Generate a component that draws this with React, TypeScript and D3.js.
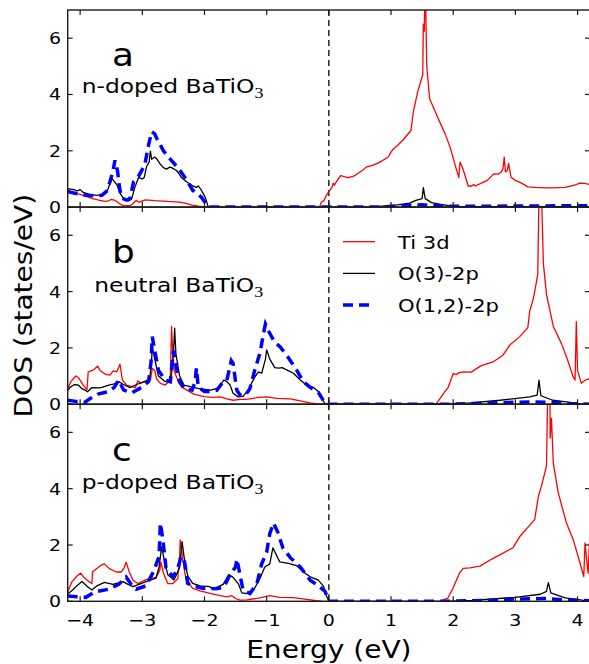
import React from "react";
import * as d3 from "d3";

type P = [number, number];

// ---------- data: [energy (eV), DOS (states/eV)] ----------
const aTi: P[] = [[-4.2,0.6],[-4.1,0.5],[-4.0,0.45],[-3.9,0.38],[-3.8,0.3],[-3.7,0.25],[-3.6,0.2],[-3.55,0.22],[-3.5,0.27],[-3.45,0.25],[-3.4,0.18],[-3.35,0.1],[-3.3,0.05],[-3.2,0.05],[-3.15,0.12],[-3.1,0.24],[-3.05,0.17],[-3.0,0.22],[-2.95,0.26],[-2.8,0.23],[-2.6,0.2],[-2.4,0.18],[-2.3,0.13],[-2.2,0.07],[-2.1,0.03],[-2.0,0.01],[-1.9,0],[-0.15,0],[-0.12,0.18],[-0.08,0.22],[-0.05,0.38],[0.0,0.55],[0.05,0.7],[0.07,0.85],[0.09,0.78],[0.12,0.9],[0.19,1.12],[0.25,1.08],[0.31,1.05],[0.4,1.1],[0.47,1.2],[0.55,1.32],[0.6,1.42],[0.7,1.48],[0.8,1.57],[0.95,1.77],[1.0,1.95],[1.03,2.05],[1.1,2.18],[1.2,2.4],[1.32,2.72],[1.36,3.4],[1.43,4.1],[1.51,4.7],[1.52,6.5],[1.535,6.25],[1.545,7.5],[1.555,7.5],[1.575,5.0],[1.62,3.85],[1.7,3.45],[1.76,3.14],[1.87,2.6],[1.95,2.13],[2.03,1.5],[2.09,1.05],[2.11,1.6],[2.15,1.4],[2.2,1.05],[2.24,0.75],[2.3,0.75],[2.33,0.8],[2.36,0.75],[2.45,0.85],[2.55,0.95],[2.65,1.18],[2.72,1.17],[2.77,1.25],[2.8,1.35],[2.82,1.77],[2.84,1.25],[2.87,1.3],[2.89,1.55],[2.93,1.06],[3.0,0.95],[3.1,0.85],[3.2,0.72],[3.32,0.7],[3.5,0.68],[3.6,0.68],[3.8,0.7],[3.95,0.78],[4.04,0.85],[4.12,0.84],[4.2,0.8]];
const aO3: P[] = [[-4.2,0.66],[-4.1,0.62],[-4.05,0.58],[-4.0,0.62],[-3.95,0.52],[-3.85,0.45],[-3.73,0.42],[-3.62,0.46],[-3.55,0.65],[-3.49,1.03],[-3.45,0.9],[-3.41,0.8],[-3.36,0.5],[-3.3,0.3],[-3.22,0.22],[-3.17,0.3],[-3.12,0.7],[-3.06,1.05],[-3.0,1.0],[-2.97,1.05],[-2.93,1.45],[-2.89,1.6],[-2.87,1.99],[-2.85,1.7],[-2.8,1.78],[-2.77,1.72],[-2.72,1.55],[-2.66,1.4],[-2.61,1.35],[-2.56,1.42],[-2.53,1.4],[-2.45,1.3],[-2.4,1.15],[-2.37,1.05],[-2.29,0.9],[-2.22,0.8],[-2.19,0.75],[-2.13,0.7],[-2.1,0.75],[-2.05,0.6],[-2.0,0.4],[-1.98,0.3],[-1.94,0],[0.7,0],[0.9,0.04],[1.1,0.08],[1.3,0.14],[1.4,0.24],[1.5,0.3],[1.52,0.69],[1.55,0.3],[1.65,0.16],[1.8,0.1],[1.95,0.04],[2.1,0.02],[4.2,0.02]];
const aO12: P[] = [[-4.2,0.55],[-4.1,0.5],[-3.9,0.42],[-3.75,0.4],[-3.65,0.42],[-3.58,0.55],[-3.52,0.9],[-3.47,1.3],[-3.44,1.66],[-3.4,1.3],[-3.36,0.6],[-3.33,0.32],[-3.25,0.25],[-3.2,0.3],[-3.14,0.9],[-3.06,1.1],[-2.96,1.5],[-2.9,2.2],[-2.85,2.68],[-2.8,2.6],[-2.77,2.45],[-2.66,2.0],[-2.55,1.7],[-2.41,1.35],[-2.3,1.0],[-2.19,0.6],[-2.05,0.35],[-1.97,0.1],[-1.94,0.0],[0.8,0],[1.2,0.05],[1.5,0.08],[1.9,0.03],[2.3,0.03],[4.2,0.05]];

const bTi: P[] = [[-4.2,0.56],[-4.15,0.8],[-4.07,1.0],[-4.03,0.95],[-3.95,0.68],[-3.89,0.52],[-3.87,1.15],[-3.8,1.2],[-3.76,1.27],[-3.72,1.35],[-3.68,1.2],[-3.6,1.07],[-3.52,1.03],[-3.47,1.18],[-3.41,1.15],[-3.36,1.42],[-3.32,0.86],[-3.25,0.68],[-3.11,0.59],[-3.07,0.83],[-3.03,0.75],[-2.95,0.8],[-2.87,0.85],[-2.84,1.27],[-2.8,1.2],[-2.77,0.9],[-2.71,0.74],[-2.63,0.68],[-2.55,0.86],[-2.53,2.76],[-2.51,1.8],[-2.49,1.2],[-2.41,0.74],[-2.33,0.56],[-2.17,0.36],[-2.01,0.27],[-1.86,0.24],[-1.75,0.26],[-1.64,0.19],[-1.54,0.14],[-1.43,0.17],[-1.32,0.17],[-1.13,0.24],[-1.0,0.26],[-0.84,0.21],[-0.62,0.19],[-0.46,0.12],[-0.3,0.05],[-0.15,0.0],[1.72,0],[1.75,0.08],[1.84,0.37],[1.92,0.6],[2.0,1.09],[2.05,1.05],[2.1,1.12],[2.16,1.15],[2.29,1.14],[2.45,1.37],[2.64,1.5],[2.8,1.74],[2.91,2.1],[3.07,2.4],[3.2,2.72],[3.23,3.3],[3.29,3.76],[3.36,4.6],[3.38,7.5],[3.42,7.5],[3.45,5.0],[3.5,3.9],[3.61,2.76],[3.74,2.16],[3.84,1.57],[3.93,0.97],[3.96,0.86],[3.98,2.93],[4.0,1.2],[4.06,0.74],[4.12,0.85],[4.2,0.92]];
const bO3: P[] = [[-4.2,0.5],[-4.15,0.62],[-4.09,0.7],[-4.03,0.68],[-3.97,0.55],[-3.92,0.5],[-3.88,0.44],[-3.81,0.59],[-3.7,0.58],[-3.65,0.6],[-3.54,0.68],[-3.45,0.72],[-3.38,0.8],[-3.3,0.7],[-3.2,0.59],[-3.09,0.7],[-2.95,0.82],[-2.88,0.9],[-2.85,1.6],[-2.84,2.04],[-2.8,1.6],[-2.74,1.0],[-2.63,0.8],[-2.54,0.85],[-2.5,1.8],[-2.48,2.7],[-2.46,1.8],[-2.4,1.0],[-2.33,0.68],[-2.11,0.56],[-1.9,0.5],[-1.77,0.58],[-1.69,0.86],[-1.64,0.8],[-1.59,0.68],[-1.54,0.39],[-1.46,0.26],[-1.38,0.28],[-1.3,0.5],[-1.19,0.97],[-1.13,1.15],[-1.08,1.1],[-1.02,1.6],[-1.0,1.93],[-0.95,1.6],[-0.87,1.3],[-0.81,1.28],[-0.75,1.3],[-0.68,1.22],[-0.57,1.1],[-0.46,0.86],[-0.36,0.68],[-0.25,0.6],[-0.17,0.45],[-0.11,0.2],[-0.06,0.0],[1.9,0],[2.2,0.03],[2.75,0.14],[3.23,0.26],[3.35,0.32],[3.38,0.85],[3.41,0.3],[3.6,0.14],[3.82,0.08],[3.98,0.03],[4.1,0],[4.2,0]];
const bO12: P[] = [[-4.2,0.14],[-4.07,0.1],[-3.92,0.07],[-3.84,0.2],[-3.7,0.37],[-3.54,0.45],[-3.45,0.6],[-3.38,0.86],[-3.3,0.5],[-3.17,0.4],[-3.01,0.6],[-2.9,0.8],[-2.86,1.5],[-2.84,2.4],[-2.8,1.9],[-2.74,1.2],[-2.63,0.85],[-2.55,0.8],[-2.5,1.9],[-2.47,1.5],[-2.42,0.9],[-2.33,0.55],[-2.2,0.5],[-2.15,0.8],[-2.13,1.28],[-2.1,0.6],[-2.0,0.45],[-1.9,0.45],[-1.8,0.5],[-1.7,0.8],[-1.64,0.85],[-1.57,1.55],[-1.54,1.45],[-1.5,0.8],[-1.48,0.5],[-1.43,0.33],[-1.35,0.3],[-1.27,0.55],[-1.19,1.22],[-1.11,1.8],[-1.05,2.52],[-1.02,2.85],[-0.97,2.6],[-0.87,2.2],[-0.79,2.05],[-0.68,1.75],[-0.52,1.22],[-0.41,0.8],[-0.3,0.6],[-0.17,0.42],[-0.08,0.1],[-0.04,0.0],[2.0,0],[2.8,0.06],[3.3,0.08],[3.6,0.06],[3.9,0.02],[4.2,0.0]];

const cTi: P[] = [[-4.2,0.34],[-4.13,0.7],[-4.05,0.9],[-3.99,1.0],[-3.94,0.85],[-3.86,0.7],[-3.81,0.63],[-3.8,1.05],[-3.7,1.22],[-3.65,1.3],[-3.61,1.33],[-3.53,1.16],[-3.42,1.04],[-3.34,1.04],[-3.29,1.2],[-3.26,1.39],[-3.21,1.04],[-3.15,0.75],[-3.07,0.63],[-2.94,0.77],[-2.78,0.85],[-2.72,1.1],[-2.7,1.39],[-2.66,1.0],[-2.59,0.63],[-2.51,0.63],[-2.43,0.8],[-2.4,1.6],[-2.39,2.18],[-2.35,1.5],[-2.3,0.8],[-2.19,0.46],[-2.07,0.37],[-1.91,0.28],[-1.75,0.2],[-1.64,0.16],[-1.56,0.2],[-1.5,0.1],[-1.43,0.04],[-1.32,0.05],[-1.11,0.12],[-0.95,0.2],[-0.79,0.14],[-0.57,0.13],[-0.36,0.07],[-0.2,0.02],[-0.09,0],[1.82,0],[1.84,0.05],[1.91,0.1],[2.0,0.48],[2.1,1.0],[2.16,1.17],[2.27,1.19],[2.43,1.25],[2.62,1.5],[2.75,1.65],[2.96,1.9],[3.07,2.3],[3.31,2.9],[3.37,3.73],[3.42,4.1],[3.5,4.8],[3.52,7.5],[3.555,7.5],[3.56,5.8],[3.58,6.5],[3.61,4.9],[3.69,3.85],[3.82,2.79],[3.93,2.19],[4.04,1.36],[4.1,0.88],[4.12,2.07],[4.15,1.4],[4.17,1.0],[4.19,2.07],[4.2,2.0]];
const cO3: P[] = [[-4.2,0.26],[-4.12,0.4],[-4.07,0.52],[-3.97,0.7],[-3.88,0.52],[-3.81,0.4],[-3.73,0.55],[-3.61,0.67],[-3.47,0.6],[-3.31,0.7],[-3.23,0.6],[-3.15,0.52],[-2.94,0.7],[-2.78,0.82],[-2.73,1.22],[-2.69,1.93],[-2.65,1.5],[-2.59,0.94],[-2.49,0.76],[-2.4,1.2],[-2.36,2.12],[-2.33,1.6],[-2.27,0.9],[-2.19,0.64],[-2.07,0.55],[-1.92,0.52],[-1.86,0.43],[-1.7,0.6],[-1.61,0.95],[-1.54,0.85],[-1.45,0.6],[-1.4,0.3],[-1.32,0.27],[-1.21,0.4],[-1.11,0.8],[-1.03,1.22],[-0.95,1.33],[-0.9,1.9],[-0.79,1.4],[-0.65,1.35],[-0.52,1.27],[-0.41,1.04],[-0.3,0.87],[-0.17,0.75],[-0.09,0.55],[-0.04,0.2],[0.0,0],[1.9,0],[2.3,0.03],[3.0,0.14],[3.4,0.25],[3.5,0.35],[3.53,0.66],[3.57,0.3],[3.8,0.12],[4.1,0.03],[4.2,0.02]];
const cO12: P[] = [[-4.2,0.19],[-4.05,0.16],[-3.91,0.14],[-3.76,0.34],[-3.54,0.43],[-3.38,0.6],[-3.26,0.86],[-3.18,0.6],[-3.1,0.43],[-2.94,0.55],[-2.81,1.1],[-2.73,1.6],[-2.71,2.78],[-2.67,2.2],[-2.62,1.2],[-2.51,0.87],[-2.44,1.1],[-2.4,1.4],[-2.38,1.6],[-2.32,1.4],[-2.27,0.64],[-2.19,0.55],[-2.03,0.46],[-1.82,0.45],[-1.69,0.5],[-1.59,0.95],[-1.5,1.22],[-1.48,1.5],[-1.43,0.95],[-1.38,0.4],[-1.27,0.28],[-1.16,0.6],[-1.08,1.33],[-1.0,1.75],[-0.95,2.4],[-0.89,2.78],[-0.82,2.45],[-0.74,1.9],[-0.62,1.55],[-0.46,1.22],[-0.3,0.75],[-0.17,0.55],[-0.06,0.35],[0.0,0.0],[1.9,0],[2.6,0.04],[3.0,0.08],[3.5,0.1],[3.8,0.05],[4.2,0.02]];

const panelLetters = ["a", "b", "c"];
const panelNames = ["n-doped BaTiO", "neutral BaTiO", "p-doped BaTiO"];
const seriesNames = ["Ti 3d", "O(3)-2p", "O(1,2)-2p"];
const xTicks = [-4, -3, -2, -1, 0, 1, 2, 3, 4];
const yTicks = [0, 2, 4, 6];
const xLabel = "Energy (eV)";
const yLabel = "DOS (states/eV)";

const panels = [
  { ti: aTi, o3: aO3, o12: aO12 },
  { ti: bTi, o3: bO3, o12: bO12 },
  { ti: cTi, o3: cO3, o12: cO12 },
];

// ---------- layout ----------
const W = 589, H = 664;
const L = 67.7, R = 590;
const TOP = 10, PH = 197.1;
const FONT = "DejaVu Sans";
const SX = 1.15; // horizontal stretch of the reference text
const colors = ["#ff0000", "#000000", "#0000ff"];

const x = d3.scaleLinear().domain([-4.2, 4.2]).range([L, R]);

function ST({ x, y, sx = SX, size, anchor = "start", children, rotate = 0, family = FONT }: any) {
  const t = rotate ? `translate(${x},${y}) rotate(${rotate}) scale(${sx},1)` : `translate(${x},${y}) scale(${sx},1)`;
  return (
    <text transform={t} fontSize={size} fontFamily={family} textAnchor={anchor} fill="#000">
      {children}
    </text>
  );
}

export default function App() {
  const frame = "#1a1a1a";
  return (
    <svg width={W} height={H} style={{ position: "absolute", left: 0, top: 0, background: "#fff" }}>
      <defs>
        {panels.map((_, i) => (
          <clipPath id={`clip${i}`} key={i}>
            <rect x={L} y={TOP + i * PH} width={R - L} height={PH} />
          </clipPath>
        ))}
      </defs>
      {panels.map((p, i) => {
        const y0 = TOP + i * PH;
        const y = d3.scaleLinear().domain([0, 7]).range([y0 + PH, y0]);
        const line = d3.line<P>().x((d) => x(d[0])).y((d) => y(d[1]));
        return (
          <g key={i}>
            <g clipPath={`url(#clip${i})`}>
              <line x1={x(0)} x2={x(0)} y1={y0} y2={y0 + PH} stroke="#000" strokeWidth={1.3} strokeDasharray="6,4" />
              <path d={line(p.ti) || ""} fill="none" stroke={colors[0]} strokeWidth={1.3} strokeLinejoin="round" />
              <path d={line(p.o3) || ""} fill="none" stroke={colors[1]} strokeWidth={1.3} strokeLinejoin="round" />
              <path d={line(p.o12) || ""} fill="none" stroke={colors[2]} strokeWidth={3.5} strokeDasharray="10,6" />
            </g>
            <rect x={L} y={y0} width={R - L} height={PH} fill="none" stroke={frame} strokeWidth={1.4} />
            {xTicks.map((t) => (
              <g key={t}>
                <line x1={x(t)} x2={x(t)} y1={y0} y2={y0 + 5} stroke={frame} strokeWidth={1.2} />
                <line x1={x(t)} x2={x(t)} y1={y0 + PH} y2={y0 + PH - 5} stroke={frame} strokeWidth={1.2} />
              </g>
            ))}
            {yTicks.map((t) => (
              <g key={t}>
                <line x1={L} x2={L + 5} y1={y(t)} y2={y(t)} stroke={frame} strokeWidth={1.2} />
                <line x1={R} x2={R - 5} y1={y(t)} y2={y(t)} stroke={frame} strokeWidth={1.2} />
                <ST x={61} y={y(t) + 6} size={16.5} anchor="end">{String(t)}</ST>
              </g>
            ))}
            <ST x={112} y={y0 + [55.7, 56, 57][i]} size={32} sx={1.12}>{panelLetters[i]}</ST>
            <text
              transform={`translate(${[81.7, 94.3, 81.7][i]},${y0 + [83.3, 84.5, 85][i]}) scale(1.2,1)`}
              fontSize={19.5}
              fontFamily={FONT}
            >
              {panelNames[i]}
              <tspan fontFamily="Liberation Serif" fontSize={15} dy={5}>3</tspan>
            </text>
            {i === 2 &&
              xTicks.map((t) => (
                <ST key={t} x={x(t)} y={y0 + PH + 25} size={16.5} anchor="middle">
                  {t < 0 ? "\u2212" + Math.abs(t) : String(t)}
                </ST>
              ))}
          </g>
        );
      })}
      {/* legend */}
      {seriesNames.map((s, k) => {
        const ly = 241.7 + k * 31.7;
        return (
          <g key={s}>
            <line x1={343} x2={375} y1={ly} y2={ly} stroke={colors[k]} strokeWidth={k === 2 ? 3.5 : 1.3} strokeDasharray={k === 2 ? "10,6" : undefined} />
            <ST x={398} y={ly + 6.8} size={18.5} sx={1.14}>{s}</ST>
          </g>
        );
      })}
      <ST x={(L + R) / 2} y={658} size={25.5} sx={1.1} anchor="middle">{xLabel}</ST>
      <ST x={32} y={TOP + 1.5 * PH} size={25.5} sx={1.1} anchor="middle" rotate={-90}>{yLabel}</ST>
    </svg>
  );
}
